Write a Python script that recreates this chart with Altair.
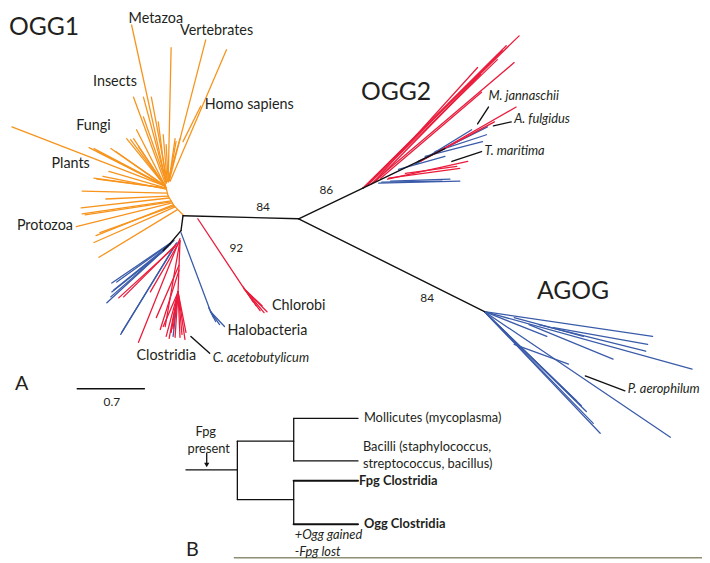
import altair as alt
import pandas as pd

# ---------------- data (image-space coordinates of the tree drawing) ----------------
# each branch: (x_start, y_start, x_end, y_end)
orange_branches = [
    (168, 182, 133, 22), (170, 181, 173, 45), (171, 180, 208, 37), (172, 180, 229, 47),
    (169, 180, 153, 95), (168, 181, 145, 95), (167, 182, 135, 95), (168, 181, 145, 115),
    (170, 179, 182, 137), (171, 179, 178, 140), (169, 180, 165, 133), (170, 180, 168, 143),
    (171, 179, 177, 137), (168, 182, 160, 120), (185, 140, 203, 104),
    (167, 185, 12, 125), (167, 185, 90, 146), (167, 185, 95, 147), (167, 185, 98, 150),
    (167, 185, 112, 147), (167, 185, 117, 150), (167, 185, 128, 137), (167, 185, 132, 138),
    (167, 185, 135, 137), (167, 185, 138, 128), (167, 185, 140, 145),
    (168, 187, 95, 177), (168, 187, 98, 178), (168, 187, 110, 170), (168, 188, 104, 175),
    (169, 192, 83, 190), (170, 195, 107, 198), (171, 197, 82, 207),
    (173, 200, 83, 213), (173, 201, 86, 214), (174, 202, 77, 226), (175, 204, 97, 235),
    (176, 205, 101, 232), (177, 206, 95, 242), (179, 209, 100, 257),
    (167, 183, 170, 195), (170, 195, 176, 205), (176, 205, 185, 214),
]
red_branches = [
    # Chlorobi
    (200, 218, 247, 289), (247, 289, 267, 313), (247, 289, 263, 311), (249, 291, 259, 306),
    (250, 292, 270, 312), (246, 287, 256, 302), (248, 290, 265, 306),
    # Clostridia
    (182, 238, 140, 343), (181, 242, 152, 292), (182, 240, 167, 327), (182, 240, 180, 292),
    (180, 292, 168, 337), (180, 292, 173, 333), (180, 292, 177, 338), (180, 292, 182, 338),
    (180, 292, 187, 340), (180, 292, 188, 333), (180, 292, 165, 327), (181, 265, 158, 318),
    (180, 292, 171, 339), (180, 292, 184, 335), (180, 292, 175, 329), (181, 270, 162, 330),
    (177, 246, 120, 298), (178, 244, 125, 297),
    # OGG2
    (367, 187, 525, 33), (367, 187, 512, 43), (370, 185, 508, 48), (372, 184, 503, 57),
    (375, 183, 520, 60), (378, 181, 483, 65), (380, 180, 486, 72), (385, 177, 487, 90),
    (440, 152, 522, 105), (425, 160, 500, 120), (392, 178, 473, 160), (393, 177, 465, 167),
    (410, 172, 462, 165),
]
blue_branches = [
    # Halobacteria
    (183, 232, 213, 312), (213, 312, 227, 327), (213, 312, 222, 325), (213, 312, 218, 322),
    (211, 308, 216, 318),
    # left cluster
    (176, 240, 113, 283), (175, 241, 118, 282), (173, 243, 115, 290), (172, 244, 108, 303),
    (170, 246, 112, 297), (178, 243, 122, 335), (179, 242, 123, 333), (166, 250, 113, 292),
    (180, 292, 175, 337),
    # OGG2
    (420, 163, 477, 128), (423, 160, 493, 125), (440, 150, 492, 133), (403, 168, 450, 155),
    (383, 182, 465, 180), (386, 181, 447, 180), (395, 180, 455, 178), (430, 155, 488, 140),
    # AGOG
    (490, 312, 660, 337), (490, 312, 700, 370), (490, 312, 553, 337), (520, 318, 590, 337),
    (535, 325, 620, 360), (545, 325, 653, 352), (560, 328, 655, 345), (490, 312, 607, 435),
    (490, 312, 600, 425), (492, 314, 593, 413), (494, 316, 588, 407), (496, 318, 583, 402),
    (490, 312, 678, 439), (520, 345, 575, 365),
]
black_branches = [
    (185, 215, 302, 218), (302, 218, 367, 187), (367, 187, 450, 147), (302, 218, 490, 312),
    (185, 215, 183, 230), (183, 230, 172, 243), (172, 243, 165, 250),
]
pointer_lines = [
    (193, 337, 212, 354), (483, 122, 494, 105), (499, 124, 517, 120),
    (457, 160, 487, 150), (592, 377, 632, 392), (78, 390, 146, 390),
]
cladogram_lines = [
    (188, 472, 240, 472), (240, 443, 240, 502), (240, 443, 297, 443), (297, 420, 297, 463),
    (297, 420, 362, 420), (297, 463, 362, 463), (240, 502, 297, 502), (297, 483, 297, 527),
    (209, 455, 209, 466),
]
cladogram_bold_lines = [(297, 483, 362, 483), (297, 527, 362, 527)]
bottom_rule = [(237, 561, 710, 561)]
arrow_head = [(209, 467)]

title_labels = [("OGG1", 9, 24), ("OGG2", 365, 90), ("AGOG", 543, 291)]
panel_labels = [("A", 15, 385), ("B", 188, 553)]
group_labels = [
    ("Metazoa", 130, 16), ("Vertebrates", 182, 28), ("Insects", 94, 80), ("Homo sapiens", 207, 103),
    ("Fungi", 77, 124), ("Plants", 52, 163), ("Protozoa", 17, 225), ("Chlorobi", 275, 306),
    ("Halobacteria", 230, 332), ("Clostridia", 138, 357),
]
species_labels = [
    ("C. acetobutylicum", 215, 359), ("M. jannaschii", 494, 94), ("A. fulgidus", 520, 117),
    ("T. maritima", 490, 149), ("P. aerophilum", 635, 390),
]
bootstrap_labels = [("84", 266, 206), ("86", 330, 189), ("92", 239, 248), ("84", 432, 298), ("0.7", 113, 403)]
clado_center_labels = [("Fpg", 208, 434), ("present", 211, 451)]
clado_labels = [
    ("Mollicutes (mycoplasma)", 368, 420), ("Bacilli (staphylococcus,", 367, 449),
    ("streptococcus, bacillus)", 367, 466),
]
clado_bold_labels = [("Fpg Clostridia", 363, 483), ("Ogg Clostridia", 368, 527)]
clado_italic_labels = [("+Ogg gained", 298, 538), ("-Fpg lost", 298, 555)]

# ---------------- chart ----------------
FONT = "Lato"
W, H = 702, 555
xs = alt.Scale(domain=[8, 710], nice=False, zero=False)
ys = alt.Scale(domain=[8, 563], nice=False, zero=False, reverse=True)


def seg_df(rows):
    return pd.DataFrame(rows, columns=["x", "y", "x2", "y2"])


def txt_df(rows):
    return pd.DataFrame(rows, columns=["t", "x", "y"])


def segs(rows, color, width):
    return alt.Chart(seg_df(rows)).mark_rule(color=color, strokeWidth=width, strokeCap="round").encode(
        x=alt.X("x:Q", scale=xs, axis=None), y=alt.Y("y:Q", scale=ys, axis=None), x2="x2:Q", y2="y2:Q"
    )


def texts(rows, size, align="left", weight="normal", style="normal"):
    return alt.Chart(txt_df(rows)).mark_text(
        font=FONT, fontSize=size, align=align, baseline="middle", fontWeight=weight,
        fontStyle=style, color="#231f20"
    ).encode(x=alt.X("x:Q", scale=xs, axis=None), y=alt.Y("y:Q", scale=ys, axis=None), text="t:N")


layers = [
    segs(orange_branches, "#f7941d", 1.3),
    segs(blue_branches, "#3a5ba9", 1.3),
    segs(red_branches, "#ea1c3c", 1.3),
    segs(black_branches, "#111111", 1.4),
    segs(pointer_lines, "#111111", 1.4),
    segs(cladogram_lines, "#111111", 1.3),
    segs(cladogram_bold_lines, "#111111", 2.2),
    segs(bottom_rule, "#8e8e72", 1.5),
    alt.Chart(pd.DataFrame(arrow_head, columns=["x", "y"])).mark_point(
        shape="triangle-down", filled=True, size=28, color="#111111", opacity=1
    ).encode(x=alt.X("x:Q", scale=xs, axis=None), y=alt.Y("y:Q", scale=ys, axis=None)),
    texts(title_labels, 25),
    texts(panel_labels, 20),
    texts(group_labels, 14.5),
    texts(species_labels, 13, style="italic"),
    texts(bootstrap_labels, 12, align="center"),
    texts(clado_center_labels, 13, align="center"),
    texts(clado_labels, 13),
    texts(clado_bold_labels, 13, weight="bold"),
    texts(clado_italic_labels, 13, style="italic"),
]

chart = alt.layer(*layers).properties(
    width=W, height=H, padding=0, autosize=alt.AutoSizeParams(type="none"), background="white"
).configure_view(strokeWidth=0)

chart.save("out.html", embed_options={"renderer": "svg", "actions": False})
